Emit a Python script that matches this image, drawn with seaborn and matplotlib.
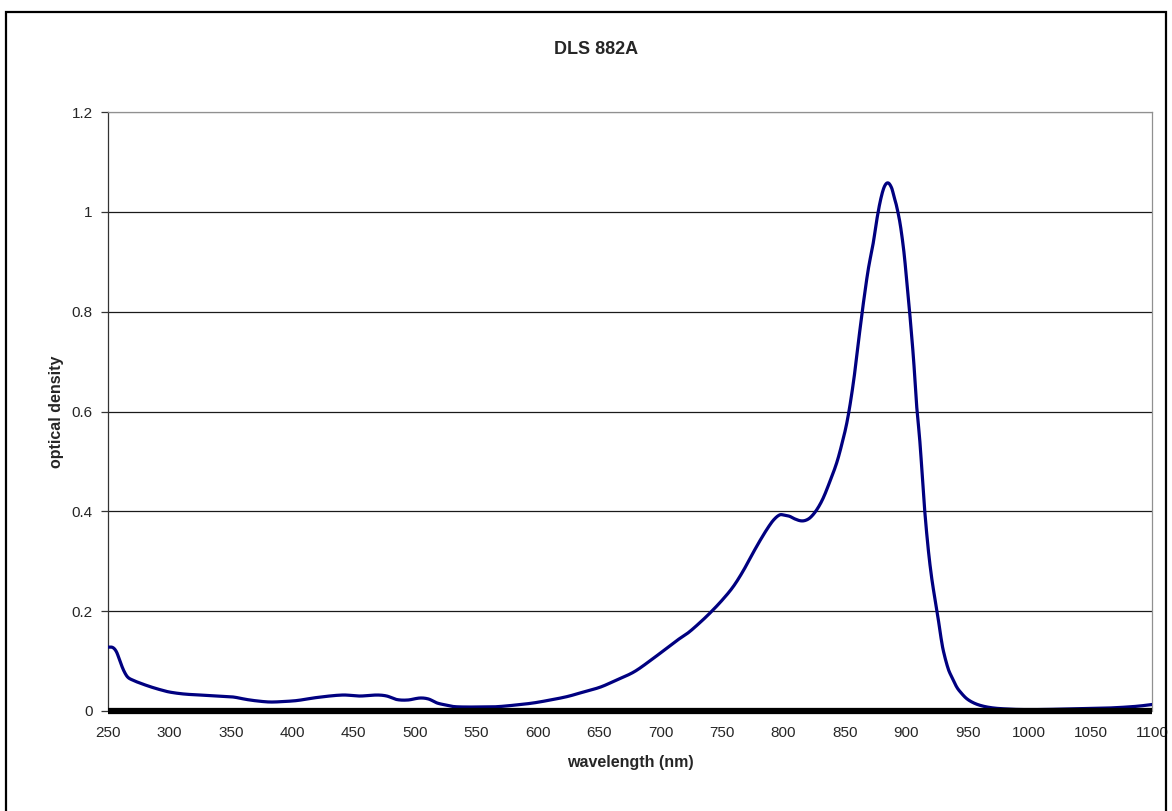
import numpy as np
import pandas as pd
import matplotlib
matplotlib.use("Agg")
import matplotlib.pyplot as plt
import seaborn as sns
from matplotlib.patches import Rectangle

wavelength = [250, 254, 257, 260, 263, 266, 270, 276, 284, 292, 300, 312, 325, 340, 352, 363, 372, 382, 393,
              404, 420, 441, 455, 469, 477, 485, 494, 504, 511, 518, 525, 531, 540, 550, 560, 569, 582,
              596, 610, 624, 637, 651, 664, 678, 691, 705, 713, 722, 731, 740, 750, 759, 767, 775, 781,
              787, 792, 797, 801, 805, 809, 814, 818, 822, 827, 832, 837, 843, 847, 852, 857, 861, 865,
              869, 873, 876, 879, 882, 885, 888, 890, 892, 895, 898, 900, 903, 906, 908, 911, 913, 915,
              918, 921, 925, 928, 930, 934, 937, 941, 944, 949, 955, 962, 971, 982, 993, 1010, 1030,
              1050, 1065, 1080, 1090, 1100]
od = [0.128, 0.127, 0.118, 0.098, 0.080, 0.068, 0.062, 0.056, 0.049, 0.043, 0.038, 0.034, 0.032, 0.030,
      0.028, 0.023, 0.020, 0.018, 0.019, 0.021, 0.027, 0.032, 0.030, 0.032, 0.030, 0.023, 0.022, 0.026,
      0.024, 0.016, 0.012, 0.009, 0.008, 0.008, 0.008, 0.009, 0.012,
      0.016, 0.022, 0.029, 0.038, 0.048, 0.062, 0.078, 0.100, 0.126, 0.141, 0.156, 0.175, 0.196, 0.222,
      0.249, 0.280, 0.316, 0.342, 0.366, 0.383, 0.393, 0.392, 0.390, 0.385, 0.381, 0.382, 0.388, 0.403,
      0.425, 0.455, 0.495, 0.530, 0.583, 0.660, 0.740, 0.817, 0.885, 0.937, 0.985, 1.024, 1.050, 1.058,
      1.048, 1.030, 1.012, 0.975, 0.920, 0.870, 0.790, 0.700, 0.623, 0.540, 0.470, 0.400, 0.320, 0.260,
      0.200, 0.150, 0.122, 0.085, 0.068, 0.048, 0.038, 0.025, 0.016, 0.010, 0.006, 0.004, 0.003, 0.003,
      0.004, 0.005, 0.006, 0.008, 0.010, 0.013]

x_ticks = list(range(250, 1101, 50))
y_ticks = [0, 0.2, 0.4, 0.6, 0.8, 1.0, 1.2]
y_tick_labels = ["0", "0.2", "0.4", "0.6", "0.8", "1", "1.2"]

sns.set_theme(style="white")
plt.rcParams['font.family'] = ['Liberation Sans', 'DejaVu Sans']

W, H = 1172, 811
fig = plt.figure(figsize=(W / 100, H / 100), dpi=100)
ax = fig.add_axes([108 / W, (H - 711) / H, (1152 - 108) / W, (711 - 112) / H])


def smooth(x, y, xq):
    # Hermite spline with centred-difference slopes (Excel-like smoothed line)
    x = np.asarray(x, float)
    y = np.asarray(y, float)
    h = np.diff(x)
    m = np.empty_like(y)
    m[1:-1] = (y[2:] - y[:-2]) / (x[2:] - x[:-2])
    m[0] = (y[1] - y[0]) / h[0]
    m[-1] = (y[-1] - y[-2]) / h[-1]
    idx = np.clip(np.searchsorted(x, xq) - 1, 0, len(x) - 2)
    t = (xq - x[idx]) / h[idx]
    h00 = 2 * t**3 - 3 * t**2 + 1
    h10 = t**3 - 2 * t**2 + t
    h01 = -2 * t**3 + 3 * t**2
    h11 = t**3 - t**2
    return h00 * y[idx] + h10 * h[idx] * m[idx] + h01 * y[idx + 1] + h11 * h[idx] * m[idx + 1]


xf = np.linspace(250, 1100, 3401)
yf = smooth(wavelength, od, xf)
df = pd.DataFrame({"wavelength": xf, "od": yf})

for yt in y_ticks[1:]:
    ax.axhline(yt, color="#1a1a1a" if yt < 1.2 else "#909090", lw=0.9, zorder=1)

sns.lineplot(data=df, x="wavelength", y="od", ax=ax, color="#000080", lw=2.3, zorder=3, estimator=None)

ax.axhline(0, color="black", lw=4.5, zorder=4, solid_capstyle="butt", clip_on=False)

ax.set_xlim(250, 1100)
ax.set_ylim(0, 1.2)
ax.set_xticks(x_ticks)
ax.set_xticklabels([str(t) for t in x_ticks], fontsize=11)
ax.set_yticks(y_ticks)
ax.set_yticklabels(y_tick_labels, fontsize=11)
ax.tick_params(axis="y", direction="out", length=5, width=0.9, color="#333333", pad=6, left=True)
ax.tick_params(axis="x", length=0, pad=11)
ax.set_xlabel("wavelength (nm)", fontsize=11.5, fontweight="bold")
ax.set_ylabel("optical density", fontsize=11.5, fontweight="bold")
ax.yaxis.set_label_coords((56 - 108) / (1152 - 108), 0.5)
ax.xaxis.set_label_coords(0.5, -(763 - 711) / (711 - 112))
ax.xaxis.label.set_verticalalignment("center")
ax.yaxis.label.set_verticalalignment("center")

for s in ["top", "right"]:
    ax.spines[s].set_color("#909090")
    ax.spines[s].set_linewidth(0.9)
ax.spines["left"].set_color("#333333")
ax.spines["left"].set_linewidth(0.9)
ax.spines["bottom"].set_visible(False)

fig.text(596 / W, 1 - 50 / H, "DLS 882A", ha="center", va="center", fontsize=13, fontweight="bold")

fig.patches.append(Rectangle((6 / W, -0.01), (1166 - 6) / W, (H - 12) / H + 0.01,
                             transform=fig.transFigure, fill=False, edgecolor="black", lw=1.6))

fig.savefig("out.png", dpi=100, facecolor="white")
